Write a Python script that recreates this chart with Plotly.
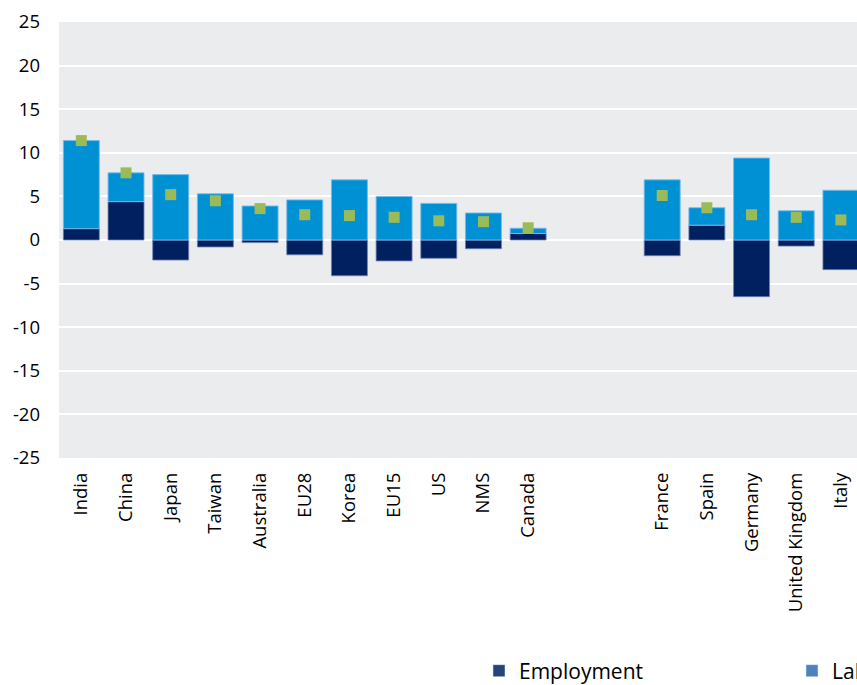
import plotly.graph_objects as go

categories = ["India", "China", "Japan", "Taiwan", "Australia", "EU28", "Korea", "EU15",
              "US", "NMS", "Canada", " ", "  ", "France", "Spain", "Germany",
              "United Kingdom", "Italy"]
employment = [1.3, 4.4, -2.3, -0.8, -0.3, -1.7, -4.1, -2.4, -2.1, -1.0, 0.75,
               None, None, -1.8, 1.7, -6.5, -0.7, -3.4]
labour_productivity = [10.1, 3.3, 7.5, 5.3, 3.9, 4.6, 6.9, 5.0, 4.2, 3.1, 0.6,
                       None, None, 6.9, 2.0, 9.4, 3.35, 5.7]
value_added = [11.4, 7.7, 5.2, 4.5, 3.6, 2.9, 2.8, 2.6, 2.2, 2.1, 1.4,
               None, None, 5.1, 3.7, 2.9, 2.6, 2.3]
y_tick_values = [-25, -20, -15, -10, -5, 0, 5, 10, 15, 20, 25]
y_tick_labels = ["-25", "-20", "-15", "-10", "-5", "0", "5", "10", "15", "20", "25"]

FONT = "Open Sans"
W, H = 857, 685
ML, MR, MT, MB = 59, 0, 22, 227
PW = W - ML - MR
PH = H - MT - MB

fig = go.Figure()
fig.add_trace(go.Bar(x=categories, y=employment, name="Employment",
                     marker=dict(color="#002060", line=dict(color="rgba(110,130,180,0.8)", width=1)),
                     showlegend=False))
fig.add_trace(go.Bar(x=categories, y=labour_productivity, name="Labour productivity",
                     marker=dict(color="#0091D5", line=dict(color="rgba(120,185,235,0.9)", width=1)),
                     showlegend=False))
fig.add_trace(go.Scatter(x=categories, y=value_added, mode="markers", name="Value added",
                         marker=dict(symbol="square", size=11, color="#9BBB59"),
                         showlegend=False))
# legend entries (legend swatch colours)
fig.add_trace(go.Bar(x=categories, y=[None] * len(categories), name="Employment",
                     marker=dict(color="#264478"), legend="legend"))
fig.add_trace(go.Bar(x=categories, y=[None] * len(categories), name="Labour productivity",
                     marker=dict(color="#4F81BD"), legend="legend2"))

leg_y = 1 - 671 / H
fig.update_layout(
    width=W, height=H,
    margin=dict(l=ML, r=MR, t=MT, b=MB),
    barmode="relative", bargap=0.195,
    paper_bgcolor="white", plot_bgcolor="#EBECEE",
    font=dict(family=FONT, size=18.5, color="#000000"),
    legend=dict(orientation="h", x=(479 - ML) / PW, xanchor="left",
                yref="container", y=leg_y, yanchor="middle",
                font=dict(size=21), bgcolor="rgba(0,0,0,0)"),
    legend2=dict(orientation="h", x=(797 - ML) / PW, xanchor="left",
                 yref="container", y=leg_y, yanchor="middle",
                 entrywidth=20, entrywidthmode="pixels",
                 font=dict(size=21), bgcolor="rgba(0,0,0,0)"),
)
fig.update_xaxes(type="category", categoryorder="array", categoryarray=categories,
                 range=[-0.5, 17.36], tickangle=-90, showgrid=False, zeroline=False,
                 showline=False, ticks="", ticklabelstandoff=10)
fig.update_yaxes(range=[-25, 25], tickvals=y_tick_values, ticktext=y_tick_labels,
                 showgrid=True, gridcolor="white",
                 gridwidth=2, zeroline=False, showline=False, ticks="",
                 ticklabelstandoff=18)

fig.write_html("out.html", config={"displayModeBar": False},
               post_script="document.body.style.margin='0';document.body.style.overflow='hidden';")
